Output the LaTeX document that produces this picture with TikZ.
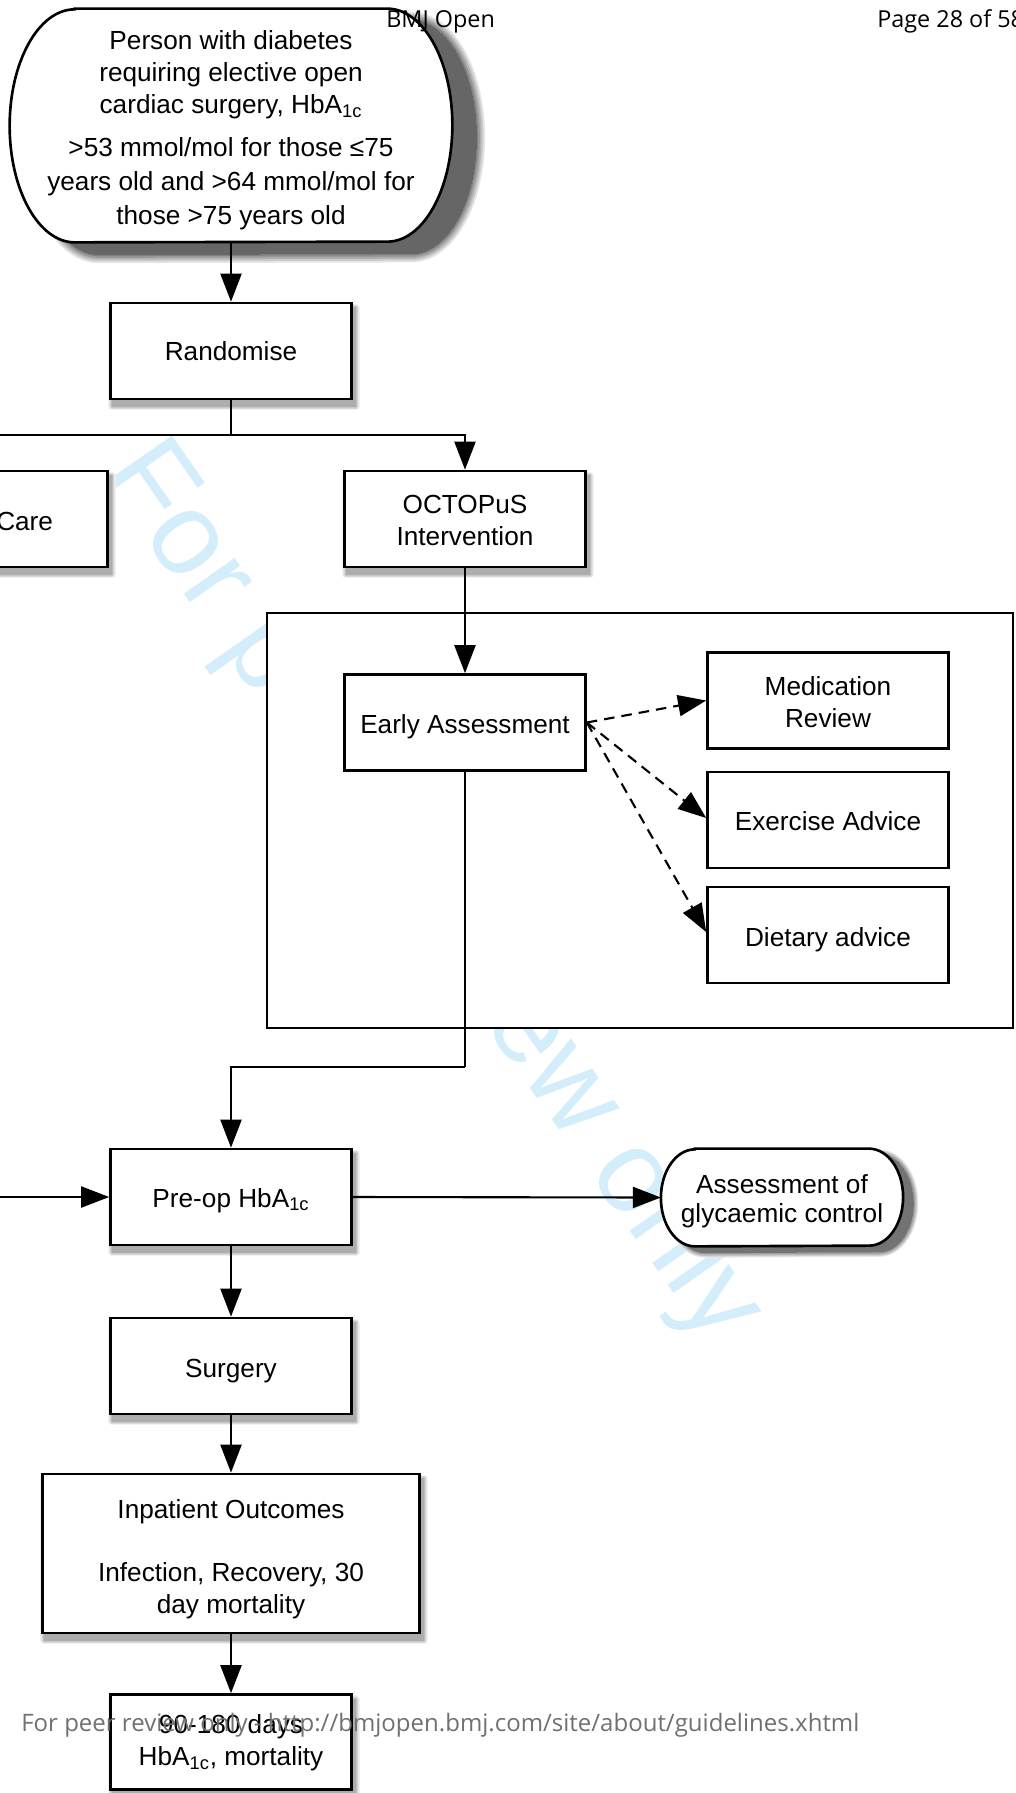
\documentclass[tikz,border=0pt]{standalone}
\usepackage{fontspec}
\setmainfont{Liberation Sans}
\newfontfamily\pagefont{Open Sans}
\usepackage{graphicx}
\usetikzlibrary{arrows.meta,calc}

% one drawing unit = 0.02cm
\newlength\unitpx
\setlength\unitpx{0.02cm}

\definecolor{wmblue}{RGB}{212,237,250}
\definecolor{footgray}{RGB}{112,112,112}

\pgfdeclarelayer{wm}
\pgfdeclarelayer{bg}
\pgfdeclarelayer{fg}
\pgfsetlayers{wm,bg,main,fg}

% soft shadow built from nested solid layers: #1 spread (pt), #2 darkness (%), #3 path
\newcommand\shadelayers[3]{%
  \foreach \k in {0,...,5}{%
    \pgfmathsetmacro\shgrow{2*#1*(1-\k/5)}%
    \pgfmathsetmacro\shdark{#2*(\k+1)/6}%
    \path[fill=black!\shdark!white, draw=black!\shdark!white,
          line width=\shgrow pt, line join=round] #3;}}
% shadow under a rectangular box
\newcommand\boxshade[1]{%
  \shadelayers{2.2}{32}{($(#1.north west)+(3,6)$) rectangle ($(#1.south east)+(3,6)$)}}
% terminal outline with elliptical ends: node, x radius, y radius, offset
\newcommand\termoutline[4]{%
  ($(#1.north west)+(#2,0)+#4$) -- ($(#1.north east)+(-#2,0)+#4$)
  arc[start angle=90, end angle=-90, x radius=#2\unitpx, y radius=#3\unitpx]
  -- ($(#1.south west)+(#2,0)+#4$)
  arc[start angle=270, end angle=90, x radius=#2\unitpx, y radius=#3\unitpx]
  -- cycle}
% extra height on a first line, pushes a text block down
\newcommand\lift[1]{\rule{0pt}{#1}}

\tikzset{
  txt/.style={font=\fontsize{14.9pt}{18.1pt}\selectfont, align=center},
  boxbase/.style={txt, draw, line width=1.5pt, fill=white, rectangle,
    minimum width=241\unitpx, minimum height=96\unitpx, inner sep=2pt},
  stepbox/.style={boxbase},
  subbox/.style={boxbase},
  termtext/.style={txt, rectangle, inner sep=0pt},
  termshape/.style={draw, line width=1.5pt, fill=white},
  flow/.style={line width=1.2pt, -{Triangle[length=16pt,width=12pt]}},
  plainline/.style={line width=1.2pt},
  optional/.style={flow, dash pattern=on 6pt off 4pt},
  pagetext/.style={font=\pagefont\fontsize{13.3pt}{16pt}\selectfont, anchor=base west, inner sep=0pt},
}

\begin{document}
\begin{tikzpicture}[x=0.02cm, y=-0.02cm]
\useasboundingbox (0,0) rectangle (1015,1793);

% watermark behind everything
\begin{pgfonlayer}{wm}
  \node[text=wmblue, font=\fontsize{67pt}{67pt}\selectfont, rotate=-55, inner sep=0pt]
    (wmark) at (431,894) {For peer review only};
\end{pgfonlayer}

% frame around the intervention phase
\node[draw, line width=1.5pt, fill=white, minimum width=746\unitpx,
      minimum height=415\unitpx, inner sep=0pt] (phase) at (640,820.5) {};

% entry terminal
\node[termtext, minimum width=442\unitpx, minimum height=233\unitpx] (start) at (231,125.5)
  {\lift{16.1pt}Person with diabetes\\
   requiring elective open\\
   cardiac surgery, HbA\textsubscript{1c}\\[6.8pt]
   >53 mmol/mol for those ≤75\\[1.1pt]
   years old and >64 mmol/mol for\\[1.1pt]
   those >75 years old};

\node[stepbox] (rand) at (231,351) {Randomise};
\node[stepbox, text width=132\unitpx, align=right] (usual) at (-13,519) {\lift{13pt}Care};
\node[stepbox] (octo) at (465,519) {\lift{12.5pt}OCTOPuS\\Intervention};

\node[subbox] (ea) at (465,722.5) {\lift{16pt}Early Assessment};
\node[subbox] (med) at (828,700.5) {\lift{13pt}Medication\\Review};
\node[subbox] (exer) at (828,820) {\lift{12pt}Exercise Advice};
\node[subbox] (diet) at (828,935) {\lift{16.7pt}Dietary advice};

\node[stepbox] (preop) at (231,1197) {\lift{14.5pt}Pre-op HbA\textsubscript{1c}};
\node[termtext, font=\fontsize{14.9pt}{16.4pt}\selectfont,
      minimum width=241.5\unitpx, minimum height=97\unitpx] (assess) at (782,1197.5)
  {\lift{14.8pt}Assessment of\\glycaemic control};

\node[stepbox] (surg) at (231,1366) {\lift{16.7pt}Surgery};
\node[stepbox, minimum width=377\unitpx, minimum height=159\unitpx] (inpat) at (231,1553.5)
  {\lift{17.4pt}Inpatient Outcomes\\[18.1pt]Infection, Recovery, 30\\day mortality};
\node[stepbox, minimum height=95\unitpx] (late) at (231,1742)
  {\lift{12pt}90-180 days\\HbA\textsubscript{1c}, mortality};

% shadows and terminal outlines
\begin{pgfonlayer}{bg}
  \foreach \b in {rand,usual,octo,preop,surg,inpat,late}{\boxshade{\b}}
  \shadelayers{5}{60}{\termoutline{start}{65}{116.5}{(24,12)}}
  \shadelayers{3}{55}{\termoutline{assess}{34}{48.5}{(10,6)}}
  \path[termshape] \termoutline{start}{65}{116.5}{(0,0)};
  \path[termshape] \termoutline{assess}{34}{48.5}{(0,0)};
\end{pgfonlayer}

% connectors
\coordinate (split) at ($(rand.south)+(0,35)$);
\coordinate (merge) at ($(ea.south)+(0,295)$);

\draw[flow] (start.south) -- (rand.north);
\draw[plainline] (rand.south) -- (split);
\draw[flow] (split) -| (octo.north);
\draw[flow] (split) -| (usual.north);
\draw[flow] (octo.south) -- (ea.north);
\draw[optional] (ea.east) -- (med.west);
\draw[optional] (ea.east) -- ([yshift=2\unitpx]exer.west);
\draw[optional] (ea.east) -- ([yshift=3\unitpx]diet.west);
\draw[plainline] (ea.south) -- (merge);
\draw[flow] (merge) -| (preop.north);
\draw[flow] (usual.south) |- (preop.west);
\draw[flow] (preop.east) -- (assess.west);
\draw[flow] (preop.south) -- (surg.north);
\draw[flow] (surg.south) -- (inpat.north);
\draw[flow] (inpat.south) -- (late.north);

% running head and foot of the page
\begin{pgfonlayer}{fg}
  \node[pagetext] (head) at (386,27) {BMJ Open};
  \node[pagetext] (pageno) at (877,27) {Page 28 of 58};
  \node[pagetext, text=footgray] (foot) at (21,1731)
    {\resizebox{838\unitpx}{!}{For peer review only - http://bmjopen.bmj.com/site/about/guidelines.xhtml}};
\end{pgfonlayer}
\end{tikzpicture}
\end{document}
